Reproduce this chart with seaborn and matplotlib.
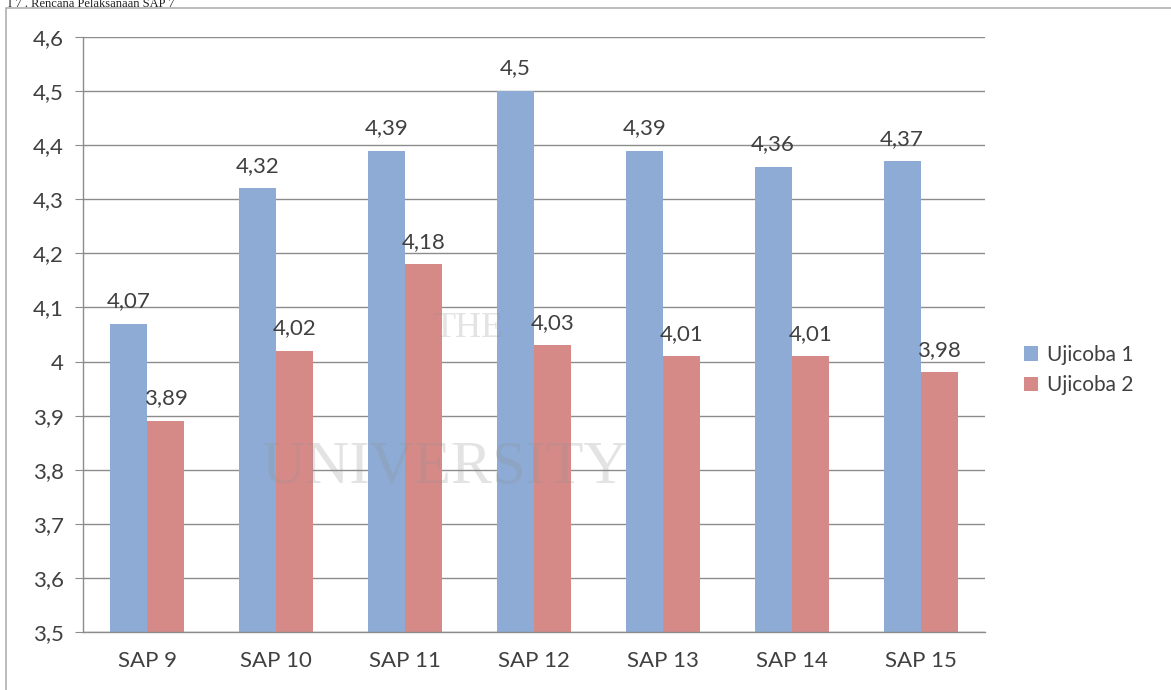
import pandas as pd
import matplotlib.pyplot as plt
import matplotlib.patches as mpatches
import seaborn as sns

# data
kategori = ['SAP 9', 'SAP 10', 'SAP 11', 'SAP 12', 'SAP 13', 'SAP 14', 'SAP 15']
ujicoba_1 = [4.07, 4.32, 4.39, 4.50, 4.39, 4.36, 4.37]
ujicoba_2 = [3.89, 4.02, 4.18, 4.03, 4.01, 4.01, 3.98]
y_ticks = [3.5, 3.6, 3.7, 3.8, 3.9, 4.0, 4.1, 4.2, 4.3, 4.4, 4.5, 4.6]

df = pd.DataFrame({
    'SAP': kategori * 2,
    'nilai': ujicoba_1 + ujicoba_2,
    'seri': ['Ujicoba 1'] * len(kategori) + ['Ujicoba 2'] * len(kategori),
})

def koma(v):
    s = f'{v:.2f}'.rstrip('0').rstrip('.')
    return s.replace('.', ',')

sns.set_style('white')
plt.rcParams['font.family'] = ['Lato', 'DejaVu Sans']

fig = plt.figure(figsize=(11.71, 6.9), dpi=100)
ax = fig.add_axes([83 / 1171, 1 - 632 / 690, 902 / 1171, 595 / 690])

sns.barplot(data=df, x='SAP', y='nilai', hue='seri', ax=ax,
            palette=['#8dabd5', '#d68a88'], width=0.575, saturation=1,
            linewidth=0, edgecolor='none')

ax.set_ylim(3.5, 4.6)
ax.set_xlim(-0.5, len(kategori) - 0.5)
ax.set_yticks(y_ticks)
ax.set_yticklabels([koma(t) for t in y_ticks])
ax.yaxis.grid(True, color='#8c8c8c', lw=1)
ax.set_axisbelow(True)
ax.set_xlabel('')
ax.set_ylabel('')

for s in ['top', 'right']:
    ax.spines[s].set_visible(False)
for s in ['left', 'bottom']:
    ax.spines[s].set_color('#8c8c8c')
    ax.spines[s].set_linewidth(1)

ax.set_xticks(range(len(kategori)))
ax.set_xticks([i - 0.5 for i in range(len(kategori) + 1)], minor=True)
ax.tick_params(axis='x', which='major', length=0, pad=14, labelsize=16, labelcolor='#404040')
ax.tick_params(axis='x', which='minor', length=6, color='#8c8c8c', direction='out')
ax.tick_params(axis='y', length=6, color='#8c8c8c', direction='out', pad=8,
               labelsize=16, labelcolor='#404040')
ax.tick_params(axis='both', bottom=True, left=True)
ax.tick_params(axis='x', which='major', bottom=False)

for cont in ax.containers:
    ax.bar_label(cont, labels=[koma(b.get_height()) for b in cont],
                 padding=9, fontsize=16, color='#404040')

ax.legend(loc='center left', bbox_to_anchor=(1.022, 0.44), frameon=False,
          fontsize=15, handlelength=0.7, handleheight=0.7, handletextpad=0.4,
          labelspacing=0.5, labelcolor='#404040')

# tanda air samar
fig.text(468 / 1171, 1 - 328 / 690, 'THE', fontsize=26, family='Liberation Serif',
         color='#909090', alpha=0.25, ha='center', va='center')
fig.text(445 / 1171, 1 - 468 / 690, 'UNIVERSITY', fontsize=44, family='Liberation Serif',
         color='#909090', alpha=0.25, ha='center', va='center')

# bingkai dan judul di atas
fig.patches.append(mpatches.Rectangle((6 / 1171, -0.1), 1.2, 1.1 - 8 / 690,
                                      transform=fig.transFigure, fill=False,
                                      edgecolor='#b0b0b0', lw=1.2))
fig.text(8 / 1171, 1 - 7 / 690, 'I 7 . Rencana Pelaksanaan SAP 7',
         fontsize=9, family='Liberation Serif', color='#202020', va='baseline')

fig.savefig('out.png', dpi=100)
